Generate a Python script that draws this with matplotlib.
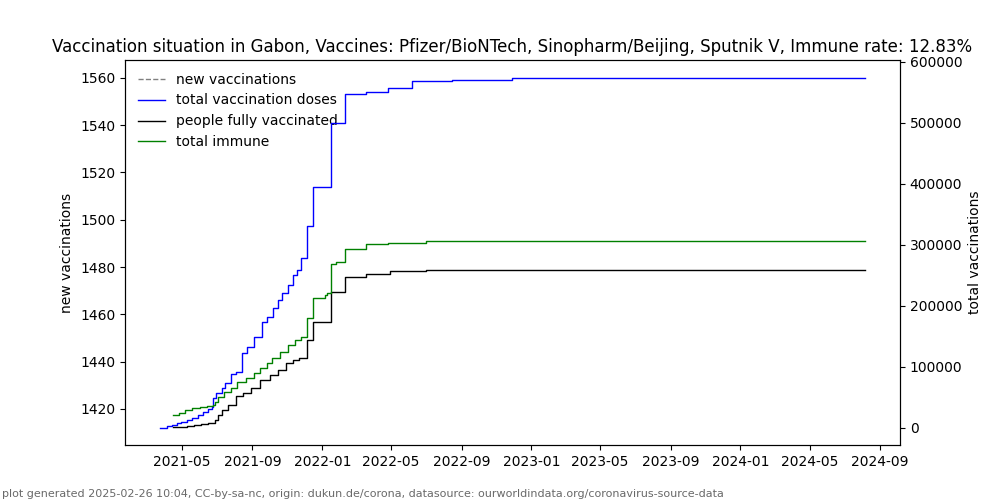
import numpy as np
import pandas as pd
import matplotlib
matplotlib.use("Agg")
import matplotlib.pyplot as plt
import matplotlib.dates as mdates

# data (step points)
new_dates = []
new_vaccinations = []

doses_dates = ["2021-03-24", "2021-04-05", "2021-04-13", "2021-04-22", "2021-04-30",
               "2021-05-09", "2021-05-18", "2021-05-29", "2021-06-07", "2021-06-15",
               "2021-06-22", "2021-06-24", "2021-06-30", "2021-07-09", "2021-07-15",
               "2021-07-25", "2021-08-04", "2021-08-13", "2021-08-22", "2021-09-04",
               "2021-09-17", "2021-09-26", "2021-10-07", "2021-10-15", "2021-10-22",
               "2021-11-02", "2021-11-11", "2021-11-17", "2021-11-25", "2021-12-05",
               "2021-12-15", "2022-01-17", "2022-02-09", "2022-03-19", "2022-04-26",
               "2022-06-06", "2022-07-11", "2022-08-15", "2022-11-28", "2024-08-05"]
doses = [490, 2500, 4900, 7500, 10300,
         13000, 15900, 21300, 26700, 31000,
         34900, 48560, 56730, 64900, 73080,
         88280, 92040, 122130, 131940, 148280,
         172800, 181970, 195700, 209270, 220220,
         233790, 250140, 258310, 279080, 330740,
         394500, 500280, 547210, 549800, 557000,
         567800, 568900, 570600, 574300, 574300]

full_dates = ["2021-04-16", "2021-04-28", "2021-05-10", "2021-05-22", "2021-06-04",
              "2021-06-16", "2021-06-27", "2021-07-02", "2021-07-09", "2021-07-20",
              "2021-08-03", "2021-08-16", "2021-08-30", "2021-09-14", "2021-10-01",
              "2021-10-15", "2021-10-29", "2021-11-10", "2021-11-22", "2021-12-06",
              "2021-12-15", "2022-01-17", "2022-02-09", "2022-03-19", "2022-04-30",
              "2022-07-01", "2022-09-01", "2024-08-05"]
fully_vaccinated = [1000, 2000, 3300, 4500, 6000,
                    8000, 12000, 21000, 28600, 37600,
                    51500, 57200, 65400, 78500, 86700,
                    94900, 105700, 111100, 114000, 143900,
                    173900, 222800, 247400, 252900, 257200,
                    258000, 258500, 258500]

immune_dates = ["2021-04-16", "2021-04-26", "2021-05-06", "2021-05-18", "2021-06-01",
                "2021-06-14", "2021-06-25", "2021-06-28", "2021-07-02", "2021-07-14",
                "2021-07-25", "2021-08-05", "2021-08-20", "2021-09-04", "2021-09-14",
                "2021-09-26", "2021-10-05", "2021-10-19", "2021-11-02", "2021-11-14",
                "2021-11-25", "2021-12-06", "2021-12-15", "2022-01-05", "2022-01-10",
                "2022-01-17", "2022-01-25", "2022-02-09", "2022-03-19", "2022-04-26",
                "2022-07-01", "2022-09-01", "2024-08-05"]
total_immune = [21250, 25000, 28500, 32200, 34500,
                36500, 37600, 43000, 51200, 59300,
                64900, 75700, 81300, 89400, 97600,
                105800, 114000, 124700, 135700, 143900,
                149300, 179300, 212000, 217400, 220200,
                268100, 271900, 293800, 300800, 303000,
                305700, 307000, 307000]

title = ("Vaccination situation in Gabon, Vaccines: Pfizer/BioNTech, "
         "Sinopharm/Beijing, Sputnik V, Immune rate: 12.83%")
footer = ("plot generated 2025-02-26 10:04, CC-by-sa-nc, origin: dukun.de/corona, "
          "datasource: ourworldindata.org/coronavirus-source-data")

fig, ax1 = plt.subplots(figsize=(10, 5), dpi=100)
ax2 = ax1.twinx()

l0, = ax1.plot(pd.to_datetime(new_dates), new_vaccinations, '--', color='gray',
               linewidth=1, label="new vaccinations")
l1, = ax2.plot(pd.to_datetime(doses_dates), doses, color='blue', linewidth=1,
               drawstyle='steps-post', label="total vaccination doses")
l2, = ax2.plot(pd.to_datetime(full_dates), fully_vaccinated, color='black', linewidth=1,
               drawstyle='steps-post', label="people fully vaccinated")
l3, = ax2.plot(pd.to_datetime(immune_dates), total_immune, color='green', linewidth=1,
               drawstyle='steps-post', label="total immune")

ax1.set_ylim(1404.7, 1567.6)
ax1.set_xlim(ax2.get_xlim())
ax1.xaxis.set_major_locator(mdates.MonthLocator(bymonth=[1, 5, 9]))
ax1.xaxis.set_major_formatter(mdates.DateFormatter('%Y-%m'))

ax1.set_ylabel("new vaccinations")
ax2.set_ylabel("total vaccinations")
ax1.set_title(title)

ax1.legend(handles=[l0, l1, l2, l3], loc='upper left', frameon=False)

fig.text(0.002, 0.006, footer, fontsize=8, color='dimgray',
         family=['Liberation Sans Narrow', 'DejaVu Sans'])

plt.savefig("out.png", dpi=100)
